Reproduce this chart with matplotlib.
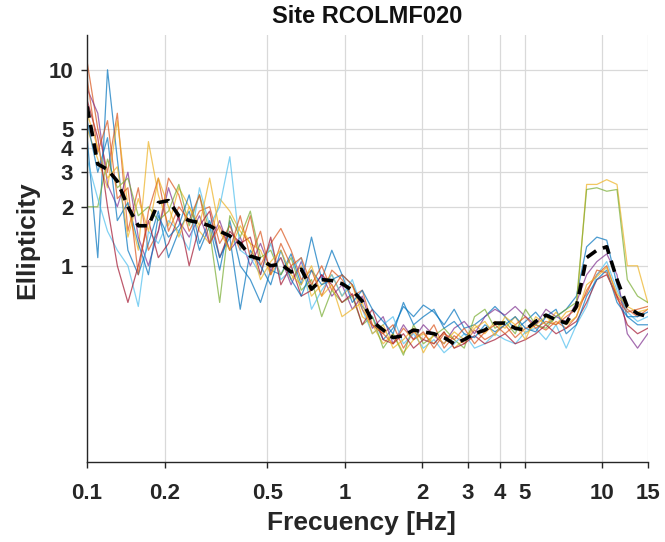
import numpy as np
import matplotlib
matplotlib.use("Agg")
import matplotlib.pyplot as plt
from matplotlib.ticker import FixedLocator, NullLocator, FixedFormatter

# frequency samples [Hz]
freq = [0.100, 0.110, 0.120, 0.131, 0.144, 0.158, 0.173, 0.189,
        0.207, 0.227, 0.249, 0.273, 0.299, 0.327, 0.358, 0.393,
        0.430, 0.471, 0.516, 0.565, 0.619, 0.678, 0.743, 0.814,
        0.891, 0.976, 1.07, 1.17, 1.28, 1.41, 1.54, 1.69,
        1.85, 2.02, 2.22, 2.43, 2.66, 2.91, 3.19, 3.50,
        3.83, 4.19, 4.59, 5.03, 5.51, 6.04, 6.61, 7.24,
        7.93, 8.69, 9.52, 10.4, 11.4, 12.5, 13.7, 15.0]

# individual ellipticity curves
ell_1 = [4.5, 1.1, 10.0, 3.5, 1.2, 0.9, 1.3, 1.9,
         1.1, 1.5, 1.9, 1.2, 1.6, 0.95, 1.7, 1.0,
         0.85, 0.65, 0.95, 0.9, 1.15, 0.8, 1.4, 0.85,
         1.2, 0.9, 0.8, 0.62, 0.55, 0.42, 0.48, 0.62,
         0.55, 0.63, 0.58, 0.5, 0.6, 0.48, 0.5, 0.55,
         0.62, 0.55, 0.47, 0.52, 0.58, 0.5, 0.55, 0.6,
         0.7, 1.25, 1.4, 1.35, 0.8, 0.55, 0.5, 0.5]
ell_2 = [11.0, 5.0, 3.0, 6.0, 1.5, 2.5, 1.2, 1.5,
         2.8, 2.3, 1.5, 1.9, 2.0, 1.3, 1.6, 1.2,
         1.8, 1.0, 1.3, 1.55, 1.2, 0.85, 0.95, 0.7,
         0.95, 0.85, 0.7, 0.75, 0.5, 0.45, 0.5, 0.38,
         0.46, 0.42, 0.5, 0.38, 0.44, 0.4, 0.47, 0.42,
         0.45, 0.5, 0.43, 0.48, 0.5, 0.47, 0.52, 0.48,
         0.55, 0.75, 0.9, 1.0, 0.7, 0.6, 0.55, 0.6]
ell_3 = [5.0, 3.5, 2.5, 5.5, 2.0, 1.2, 4.3, 2.3,
         1.6, 2.5, 2.0, 1.5, 1.3, 2.2, 1.9, 1.5,
         1.3, 1.2, 0.9, 1.1, 0.85, 1.0, 0.7, 0.8,
         0.9, 0.7, 0.8, 0.55, 0.5, 0.4, 0.45, 0.36,
         0.42, 0.45, 0.4, 0.46, 0.38, 0.42, 0.5, 0.45,
         0.52, 0.48, 0.55, 0.45, 0.5, 0.55, 0.5, 0.58,
         0.6, 2.6, 2.6, 2.75, 2.6, 1.0, 1.0, 0.65]
ell_4 = [8.0, 6.0, 2.6, 2.0, 3.0, 1.4, 1.0, 1.5,
         2.5, 1.7, 1.4, 1.8, 1.3, 1.7, 1.2, 1.4,
         1.0, 1.3, 0.95, 1.1, 0.8, 1.05, 0.75, 0.9,
         0.7, 0.8, 0.6, 0.7, 0.48, 0.55, 0.4, 0.5,
         0.42, 0.5, 0.44, 0.4, 0.48, 0.52, 0.45, 0.55,
         0.6, 0.56, 0.62, 0.55, 0.5, 0.6, 0.55, 0.52,
         0.65, 0.9, 1.05, 1.15, 0.9, 0.45, 0.38, 0.45]
ell_5 = [2.0, 2.0, 3.5, 2.5, 2.8, 1.8, 2.0, 1.7,
         1.9, 2.6, 1.6, 2.3, 1.5, 0.65, 1.8, 1.4,
         1.9, 1.1, 1.2, 0.9, 1.1, 0.75, 0.85, 0.55,
         0.75, 0.65, 0.7, 0.5, 0.55, 0.38, 0.45, 0.35,
         0.5, 0.4, 0.44, 0.48, 0.42, 0.38, 0.55, 0.6,
         0.48, 0.52, 0.45, 0.6, 0.5, 0.48, 0.55, 0.6,
         0.65, 2.45, 2.5, 2.4, 2.45, 0.85, 0.7, 0.65]
ell_6 = [3.5, 2.2, 1.5, 1.2, 1.0, 0.62, 1.5, 1.3,
         1.7, 1.5, 1.2, 2.5, 1.6, 2.0, 3.6, 1.2,
         1.1, 0.9, 1.3, 0.85, 0.95, 1.1, 0.6, 0.75,
         0.9, 0.7, 0.85, 0.6, 0.45, 0.5, 0.55, 0.4,
         0.45, 0.38, 0.42, 0.36, 0.4, 0.45, 0.38, 0.4,
         0.45, 0.42, 0.4, 0.46, 0.48, 0.42, 0.5, 0.38,
         0.5, 0.62, 0.9, 1.05, 0.75, 0.58, 0.52, 0.55]
ell_7 = [7.0, 4.5, 2.0, 1.0, 0.65, 1.0, 1.7, 1.1,
         1.3, 1.8, 1.0, 1.6, 1.9, 1.1, 1.5, 1.3,
         1.4, 0.9, 1.4, 0.8, 1.0, 0.7, 0.75, 0.9,
         0.8, 0.65, 0.72, 0.5, 0.6, 0.42, 0.4, 0.45,
         0.38, 0.42, 0.4, 0.46, 0.38, 0.4, 0.44, 0.4,
         0.42, 0.45, 0.4, 0.42, 0.45, 0.5, 0.45, 0.48,
         0.52, 0.65, 0.85, 0.9, 0.7, 0.5, 0.45, 0.48]
ell_8 = [5.5, 3.0, 4.5, 1.7, 2.1, 1.3, 0.9, 1.8,
         1.4, 1.6, 2.3, 1.3, 1.7, 1.1, 1.4, 0.6,
         1.2, 1.0, 0.8, 1.2, 0.85, 0.7, 0.95, 0.8,
         0.85, 0.9, 0.65, 0.75, 0.6, 0.52, 0.45, 0.65,
         0.5, 0.55, 0.6, 0.48, 0.52, 0.45, 0.43, 0.5,
         0.46, 0.5, 0.55, 0.48, 0.46, 0.55, 0.6, 0.45,
         0.5, 0.7, 0.85, 0.95, 0.65, 0.55, 0.55, 0.58]
ell_9 = [9.0, 3.8, 5.5, 2.2, 2.5, 0.9, 1.9, 2.8,
         1.5, 2.0, 1.7, 2.3, 1.3, 1.6, 1.2, 1.8,
         1.1, 1.5, 0.9, 1.3, 1.0, 1.1, 0.8, 1.0,
         0.75, 0.9, 0.8, 0.6, 0.5, 0.45, 0.4, 0.48,
         0.42, 0.46, 0.38, 0.45, 0.42, 0.48, 0.4, 0.46,
         0.5, 0.45, 0.5, 0.55, 0.48, 0.52, 0.5, 0.55,
         0.6, 0.72, 0.95, 0.92, 0.68, 0.58, 0.6, 0.62]
ell_10 = [6.0, 4.0, 2.8, 3.2, 1.4, 2.2, 1.5, 2.8,
          2.0, 1.4, 2.0, 1.6, 2.8, 1.5, 1.2, 1.6,
          1.3, 0.85, 1.05, 1.2, 0.9, 0.8, 1.0, 0.7,
          0.8, 0.55, 0.6, 0.65, 0.45, 0.5, 0.38, 0.42,
          0.48, 0.36, 0.45, 0.4, 0.46, 0.42, 0.48, 0.52,
          0.44, 0.55, 0.5, 0.42, 0.55, 0.5, 0.58, 0.5,
          0.55, 0.8, 0.88, 0.98, 0.72, 0.62, 0.58, 0.6]

# mean curve (black dashed)
ell_mean = [6.5, 3.3, 3.1, 2.7, 2.0, 1.6, 1.6, 2.1,
            2.15, 1.8, 1.7, 1.66, 1.6, 1.5, 1.42, 1.3,
            1.12, 1.08, 1.0, 1.02, 0.93, 0.96, 0.76, 0.85,
            0.84, 0.81, 0.75, 0.66, 0.52, 0.47, 0.43, 0.44,
            0.47, 0.46, 0.45, 0.43, 0.40, 0.42, 0.45, 0.47,
            0.51, 0.51, 0.48, 0.47, 0.52, 0.56, 0.53, 0.51,
            0.62, 1.1, 1.2, 1.25, 0.85, 0.62, 0.57, 0.55]

curves = [ell_1, ell_2, ell_3, ell_4, ell_5, ell_6, ell_7, ell_8, ell_9, ell_10]
colors = ['#0072BD', '#D95319', '#EDB120', '#7E2F8E', '#77AC30',
          '#4DBEEE', '#A2142F', '#0072BD', '#D95319', '#EDB120']

x_ticks = [0.1, 0.2, 0.5, 1, 2, 3, 4, 5, 10, 15]
x_labels = ['0.1', '0.2', '0.5', '1', '2', '3', '4', '5', '10', '15']
y_ticks = [1, 2, 3, 4, 5, 10]
y_labels = ['1', '2', '3', '4', '5', '10']

plt.rcParams['font.family'] = ['Liberation Sans', 'DejaVu Sans']

fig = plt.figure(figsize=(6.65, 5.42), dpi=100)
ax = fig.add_axes([0.131, 0.148, 0.843, 0.787])

for c, col in zip(curves, colors):
    ax.plot(freq, c, color=col, lw=0.9, alpha=0.7)
ax.plot(freq, ell_mean, color='black', lw=2.6, ls='--', dashes=(3.2, 2.0))

ax.set_xscale('log')
ax.set_yscale('log')
ax.set_xlim(0.1, 15)
ax.set_ylim(0.1, 15)

ax.xaxis.set_major_locator(FixedLocator(x_ticks))
ax.xaxis.set_major_formatter(FixedFormatter(x_labels))
ax.xaxis.set_minor_locator(NullLocator())
ax.yaxis.set_major_locator(FixedLocator(y_ticks))
ax.yaxis.set_major_formatter(FixedFormatter(y_labels))
ax.yaxis.set_minor_locator(NullLocator())

ax.grid(True, which='major', color='#d9d9d9', lw=0.9)
ax.set_axisbelow(True)
for s in ['top', 'right']:
    ax.spines[s].set_visible(False)
for s in ['left', 'bottom']:
    ax.spines[s].set_color('#262626')
    ax.spines[s].set_linewidth(1.0)

ax.tick_params(direction='out', length=4, width=1, color='#262626',
               labelsize=16, labelcolor='#262626')
ax.tick_params(axis='x', pad=11)
ax.tick_params(axis='y', pad=6)
for lab in ax.get_xticklabels() + ax.get_yticklabels():
    lab.set_fontweight('bold')

ax.set_xlabel('Frecuency [Hz]', fontsize=19, fontweight='bold', color='#262626')
ax.xaxis.set_label_coords(0.49, -0.115)
ax.set_ylabel('Ellipticity', fontsize=19, fontweight='bold', color='#262626')
ax.yaxis.set_label_coords(-0.085, 0.52)
ax.set_title('Site RCOLMF020', fontsize=17, fontweight='bold', color='#111111', pad=9)

fig.savefig('out.png', dpi=100)
